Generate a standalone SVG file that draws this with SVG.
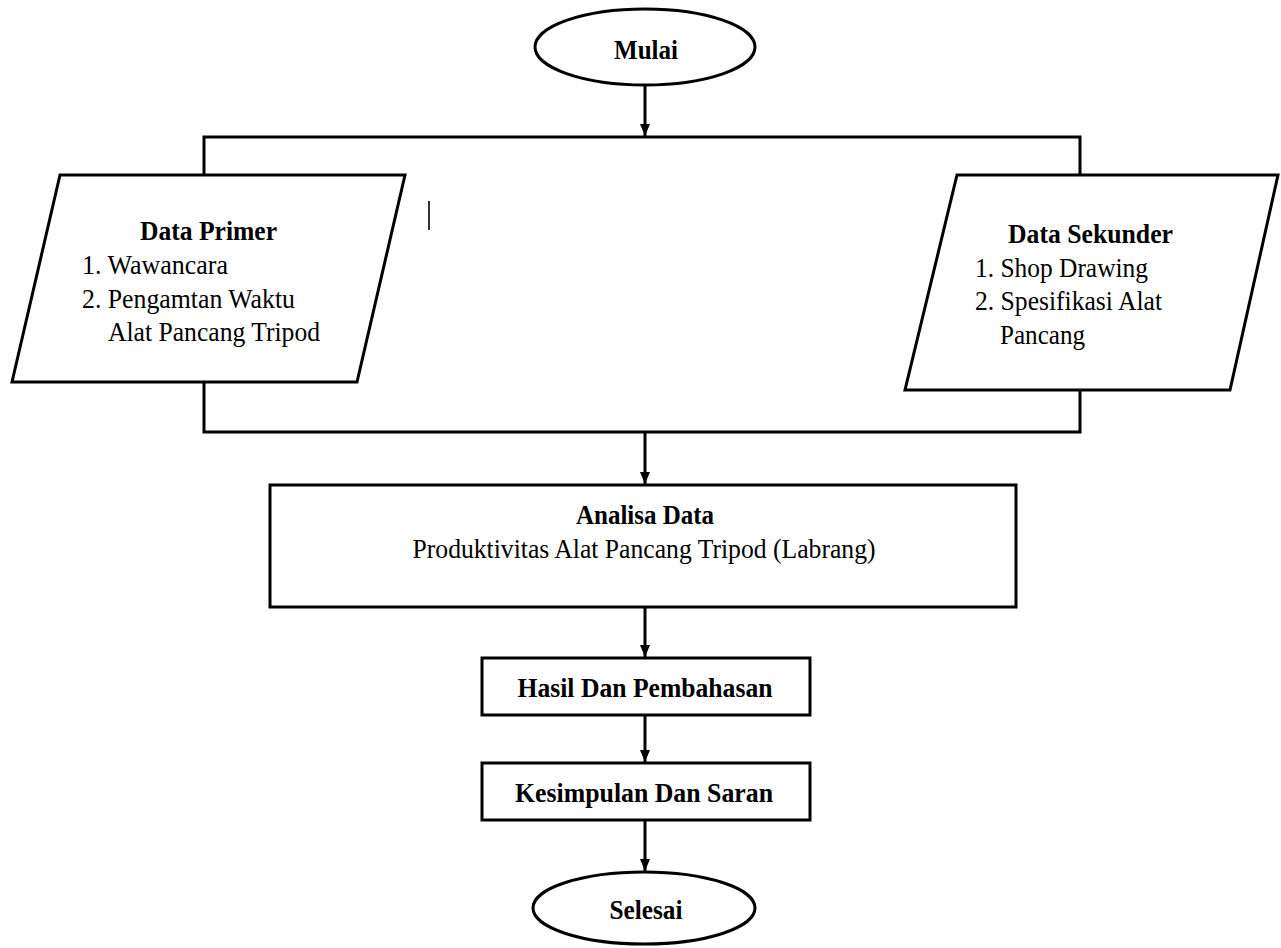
<svg xmlns="http://www.w3.org/2000/svg" width="1281" height="948" viewBox="0 0 1281 948">
<style>
.shape{fill:#fff;stroke:#000;stroke-width:3}
.line{fill:none;stroke:#000;stroke-width:3}
.b{font-family:"Liberation Serif","Times New Roman",serif;font-weight:bold;font-size:27px;fill:#000}
.r{font-family:"Liberation Serif","Times New Roman",serif;font-size:27px;fill:#000}
</style>
<defs>
<marker id="arr" viewBox="0 0 12 10" refX="12" refY="5" markerWidth="12" markerHeight="10" markerUnits="userSpaceOnUse" orient="auto">
<path d="M0,0 L12,5 L0,10 z" fill="#000"/>
</marker>
</defs>
<rect width="1281" height="948" fill="#fff"/>
<g id="connectors">
<line class="line" x1="645" y1="85" x2="645" y2="136" marker-end="url(#arr)"/>
<polyline class="line" points="204,175 204,137 1080,137 1080,175"/>
<polyline class="line" points="204,382 204,432 1080,432 1080,390"/>
<line class="line" x1="645" y1="432" x2="645" y2="484" marker-end="url(#arr)"/>
<line class="line" x1="645" y1="608" x2="645" y2="657" marker-end="url(#arr)"/>
<line class="line" x1="645" y1="715" x2="645" y2="762" marker-end="url(#arr)"/>
<line class="line" x1="645" y1="820" x2="645" y2="871" marker-end="url(#arr)"/>
</g>
<g id="mulai">
<ellipse class="shape" cx="645" cy="47" rx="110" ry="38"/>
<text class="b" x="646" y="59" text-anchor="middle" textLength="64" lengthAdjust="spacingAndGlyphs">Mulai</text>
</g>
<g id="data-primer">
<polygon class="shape" points="60,175 405,175 357,382 12,382"/>
<text class="b" x="140" y="240" textLength="137" lengthAdjust="spacingAndGlyphs">Data Primer</text>
<text class="r" x="82" y="274" textLength="146" lengthAdjust="spacingAndGlyphs">1. Wawancara</text>
<text class="r" x="82" y="308" textLength="213" lengthAdjust="spacingAndGlyphs">2. Pengamtan Waktu</text>
<text class="r" x="108" y="341" textLength="212" lengthAdjust="spacingAndGlyphs">Alat Pancang Tripod</text>
</g>
<line x1="429" y1="201" x2="429" y2="230" stroke="#000" stroke-width="1.6"/>
<g id="data-sekunder">
<polygon class="shape" points="957,175 1278,175 1230,390 905,390"/>
<text class="b" x="1008" y="243" textLength="165" lengthAdjust="spacingAndGlyphs">Data Sekunder</text>
<text class="r" x="975" y="277" textLength="173" lengthAdjust="spacingAndGlyphs">1. Shop Drawing</text>
<text class="r" x="975" y="310" textLength="187" lengthAdjust="spacingAndGlyphs">2. Spesifikasi Alat</text>
<text class="r" x="1000" y="344" textLength="85" lengthAdjust="spacingAndGlyphs">Pancang</text>
</g>
<g id="analisa-data">
<rect class="shape" x="270" y="485" width="746" height="122"/>
<text class="b" x="645" y="524" text-anchor="middle" textLength="138" lengthAdjust="spacingAndGlyphs">Analisa Data</text>
<text class="r" x="644" y="558" text-anchor="middle" textLength="463" lengthAdjust="spacingAndGlyphs">Produktivitas Alat Pancang Tripod (Labrang)</text>
</g>
<g id="hasil">
<rect class="shape" x="482" y="658" width="328" height="57"/>
<text class="b" x="645" y="697" text-anchor="middle" textLength="255" lengthAdjust="spacingAndGlyphs">Hasil Dan Pembahasan</text>
</g>
<g id="kesimpulan">
<rect class="shape" x="482" y="763" width="328" height="57"/>
<text class="b" x="644" y="802" text-anchor="middle" textLength="258" lengthAdjust="spacingAndGlyphs">Kesimpulan Dan Saran</text>
</g>
<g id="selesai">
<ellipse class="shape" cx="644" cy="908" rx="111" ry="36"/>
<text class="b" x="646" y="919" text-anchor="middle" textLength="73" lengthAdjust="spacingAndGlyphs">Selesai</text>
</g>
</svg>
